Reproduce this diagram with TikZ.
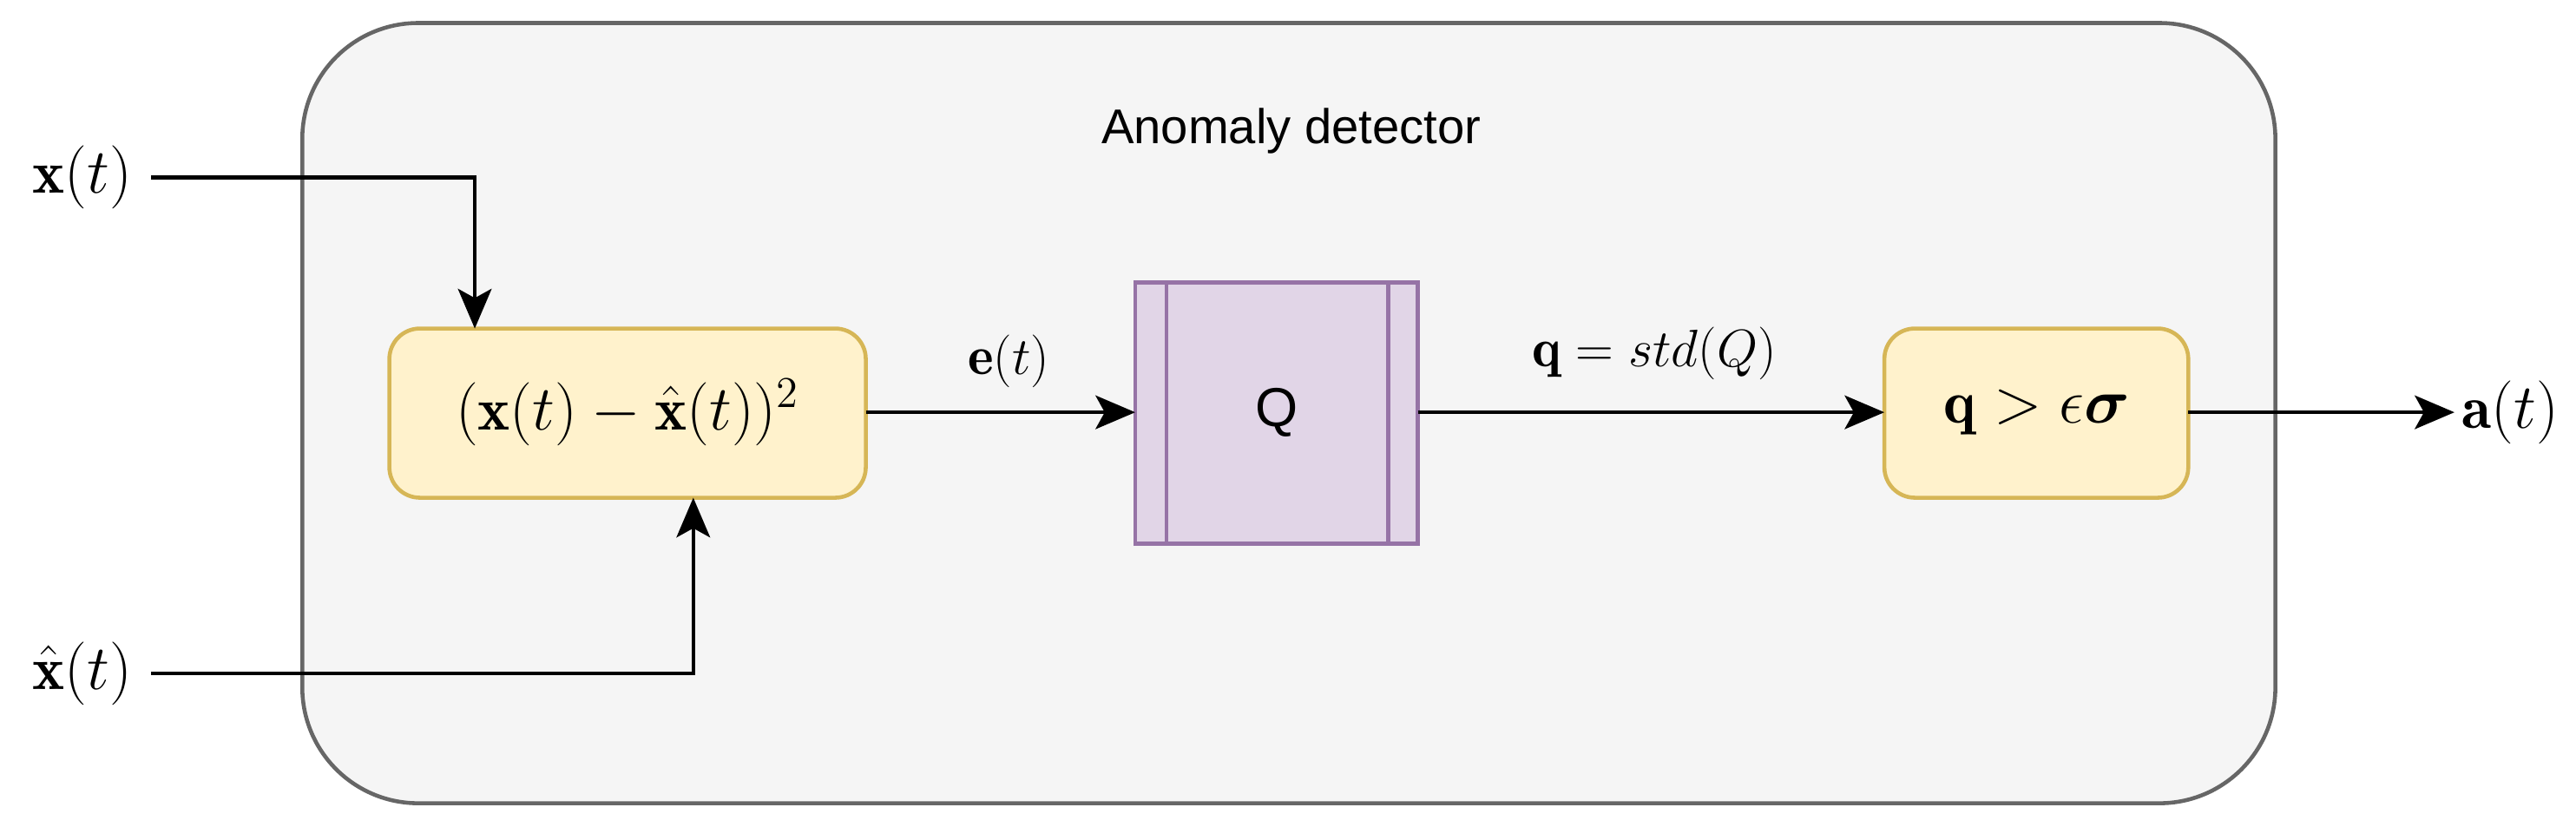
\documentclass[tikz,border=0pt]{standalone}
\usepackage{amsmath,amssymb,bm}
\usepackage{fontspec}
\newfontfamily\lab{Liberation Sans}
\usetikzlibrary{arrows.meta}
\definecolor{outerf}{HTML}{F5F5F5}
\definecolor{outerd}{HTML}{666666}
\definecolor{yelf}{HTML}{FFF2CC}
\definecolor{yeld}{HTML}{D6B656}
\definecolor{purf}{HTML}{E1D5E7}
\definecolor{purd}{HTML}{9673A6}
\begin{document}
\begin{tikzpicture}[x=0.01893cm,y=-0.01893cm,
  conn/.style={line width=1.3pt,-{Stealth[length=13pt,width=11pt,inset=3pt]}},
  ybox/.style={draw=yeld,fill=yelf,line width=1.3pt,rounded corners=10pt},
  mt/.style={font=\fontsize{20}{24}\selectfont},
  sf/.style={font=\lab\fontsize{16}{19}\selectfont}]
\useasboundingbox (0,0) rectangle (1568,503);
\draw[draw=outerd,fill=outerf,line width=1.3pt,rounded corners=38pt] (184,14) rectangle (1385,489);
\node[sf] (title) at (786,80) {Anomaly detector};
\draw[ybox] (237,200) rectangle (527,303);
\node[mt] (b1) at (382,251) {$(\mathbf{x}(t)-\hat{\mathbf{x}}(t))^2$};
\coordinate (b1n) at (289,200);
\coordinate (b1s) at (422,303);
\coordinate (b1e) at (527,251);
\draw[draw=purd,fill=purf,line width=1.3pt] (691,172) rectangle (863,331);
\draw[draw=purd,line width=1.3pt] (710,172) -- (710,331) (845,172) -- (845,331);
\node[sf,font=\lab\fontsize{18}{21}\selectfont] (q) at (777,251) {Q};
\coordinate (qw) at (691,251);
\coordinate (qe) at (863,251);
\draw[ybox] (1147,200) rectangle (1332,303);
\node[mt] (b2) at (1240,251) {$\mathbf{q}>\epsilon\bm{\sigma}$};
\coordinate (b2w) at (1147,251);
\coordinate (b2e) at (1332,251);
\node[mt] (x) at (50,108) {$\mathbf{x}(t)$};
\node[mt] (xh) at (50,410) {$\hat{\mathbf{x}}(t)$};
\node[mt,anchor=east] (a) at (1564,251) {$\mathbf{a}(t)$};
\coordinate (ae) at (1494,251);
\coordinate (xe) at (92,108);
\coordinate (xhe) at (92,410);
\draw[conn] (xe) -| (b1n);
\draw[conn] (xhe) -| (b1s);
\draw[conn] (b1e) -- (qw);
\draw[conn] (qe) -- (b2w);
\draw[conn] (b2e) -- (ae);
\node[mt,font=\fontsize{18}{22}\selectfont] (el) at (614,220) {$\mathbf{e}(t)$};
\node[mt,font=\fontsize{18}{22}\selectfont] (ql) at (1007,215) {$\mathbf{q}=std(Q)$};
\end{tikzpicture}
\end{document}
